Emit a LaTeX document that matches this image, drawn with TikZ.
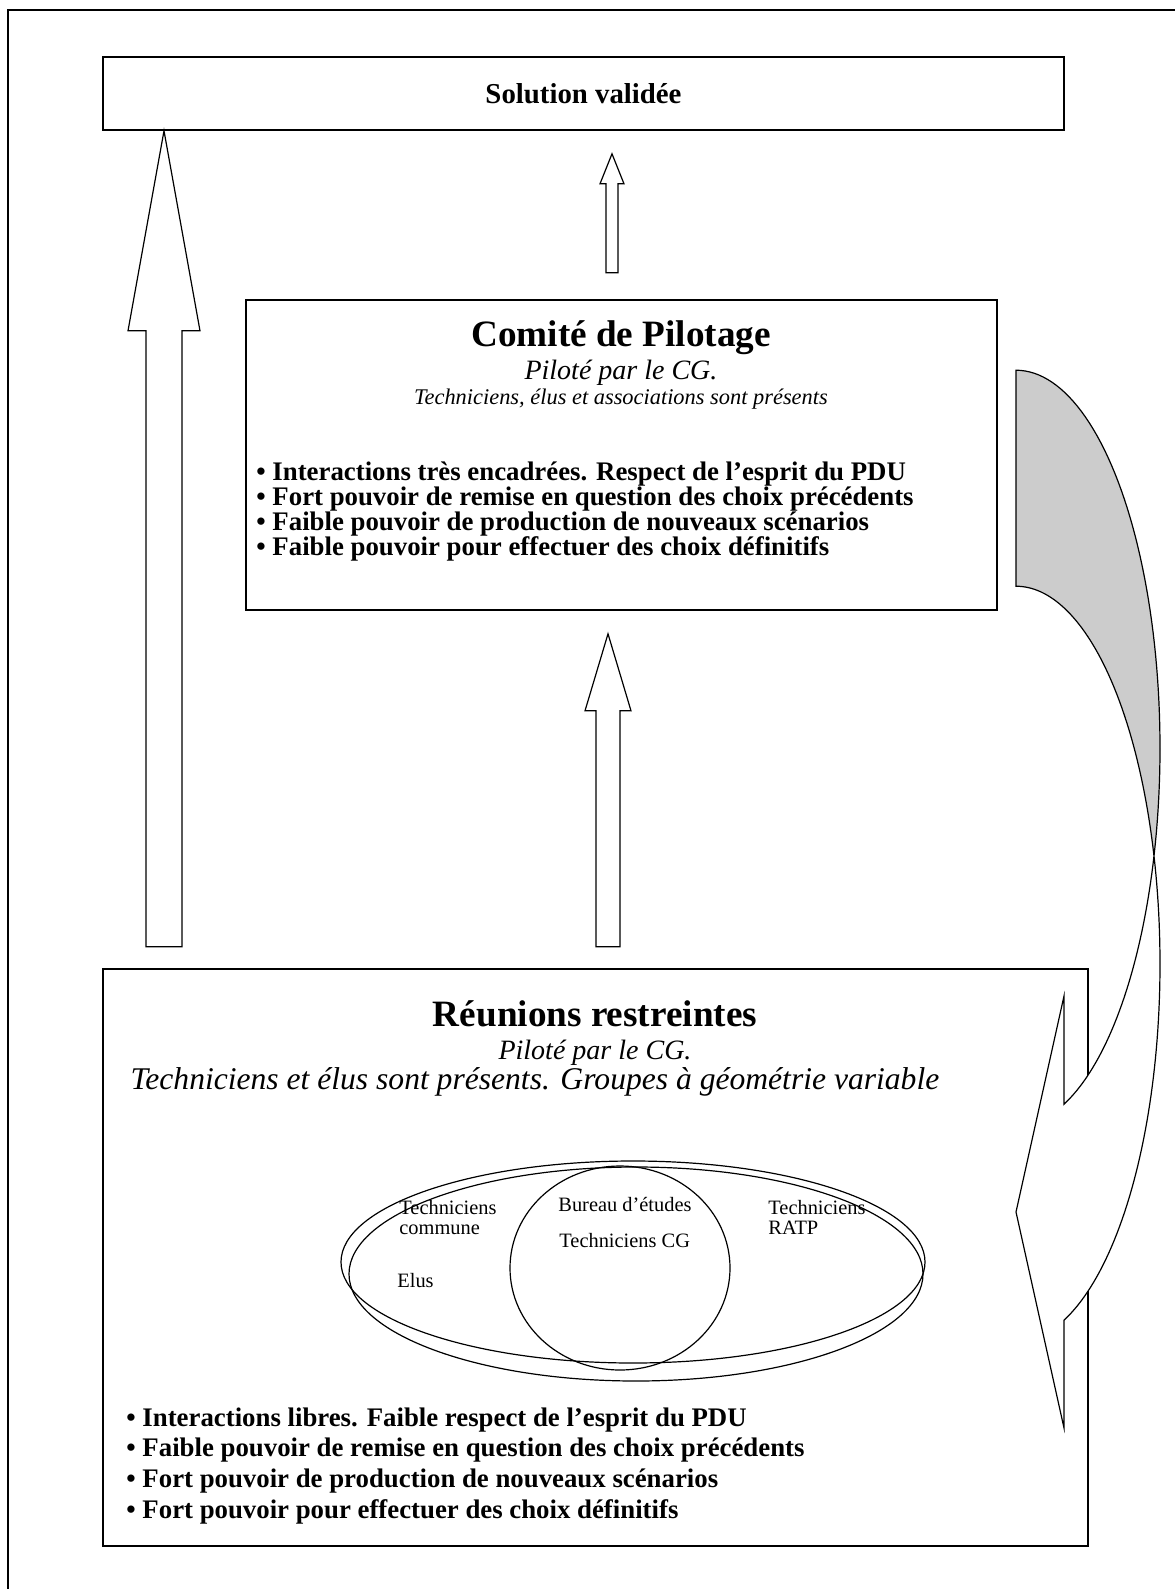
\documentclass[tikz,border=0pt]{standalone}
\usepackage{fontspec}
\setmainfont{Liberation Serif}
\usetikzlibrary{calc}

\begin{document}
\begin{tikzpicture}[
    x=0.5pt, y=-0.5pt,
    font=\normalfont,
    panel/.style={
		rectangle,
		draw=black,
		line width=0.8pt,
		fill=white,
		inner sep=0pt
	},
	hollow/.style={
		draw=black,
		line width=0.6pt,
		fill=white
	},
	twisted/.style={
		draw=black,
		line width=0.6pt
	},
	headline/.style={
		inner sep=0pt,
		anchor=base
	},
	points/.style={
		inner sep=0pt,
		anchor=north west,
		align=left
	},
	venntext/.style={
		inner sep=0pt,
		align=left,
		font=\fontsize{10.2}{10}\selectfont
	}
  ]
  \useasboundingbox (0,0) rectangle (1175,1589);
  % outer frame, only top and left show
  \draw [line width=0.8pt] (8,1589) -- (8,10) -- (1175,10);

  % We start by placing the blocks
  \node [panel, minimum width=480.5pt, minimum height=36.5pt] (sol) at (583.5,93.5)
    {\fontsize{14.4}{16}\selectfont\bfseries Solution validée};

  \node [panel, minimum width=375.5pt, minimum height=155pt] (comite) at (621.5,455) {};
  \node [headline, font=\fontsize{18.6}{20}\selectfont\bfseries] (cpTitle) at (621,346)
    {Comité de Pilotage};
  \node [headline, font=\fontsize{14}{16}\selectfont\itshape] (cpLead) at (621,379)
    {Piloté par le CG.};
  \node [headline, font=\fontsize{11.2}{12}\selectfont\itshape] (cpWho) at (621,404)
    {Techniciens, élus et associations sont présents};
  \node [points, font=\fontsize{13.4}{12.65}\selectfont\bfseries] (cpPoints) at (256,461)
    {\textbullet\ Interactions très encadrées. Respect de l’esprit du PDU\\
     \textbullet\ Fort pouvoir de remise en question des choix précédents\\
     \textbullet\ Faible pouvoir de production de nouveaux scénarios\\
     \textbullet\ Faible pouvoir pour effectuer des choix définitifs};

  \node [panel, minimum width=492.5pt, minimum height=288.5pt] (reunions) at (595.5,1257.5) {};
  \node [headline, font=\fontsize{18.6}{20}\selectfont\bfseries] (rrTitle) at (595,1026)
    {Réunions restreintes};
  \node [headline, font=\fontsize{14}{16}\selectfont\itshape] (rrLead) at (595,1059)
    {Piloté par le CG.};
  \node [headline, font=\fontsize{15.8}{16}\selectfont\itshape] (rrWho) at (535,1089)
    {Techniciens et élus sont présents. Groupes à géométrie variable};
  \node [points, font=\fontsize{13.4}{15.4}\selectfont\bfseries] (rrPoints) at (126,1407)
    {\textbullet\ Interactions libres. Faible respect de l’esprit du PDU\\
     \textbullet\ Faible pouvoir de remise en question des choix précédents\\
     \textbullet\ Fort pouvoir de production de nouveaux scénarios\\
     \textbullet\ Fort pouvoir pour effectuer des choix définitifs};

  % groups
  \draw [line width=0.6pt] (633,1262) ellipse [x radius=292, y radius=101];
  \draw [line width=0.6pt] (636,1274) ellipse [x radius=287, y radius=107];
  \draw [line width=0.6pt] (620,1268) ellipse [x radius=110, y radius=102];
  \node [venntext, anchor=north west] (tcom) at (399,1200) {Techniciens\\commune};
  \node [venntext, anchor=base west] (elus) at (397,1287) {Elus};
  \node [venntext, anchor=base west] (bureau) at (558,1211) {Bureau d’études};
  \node [venntext, anchor=base west] (tcg) at (559,1247) {Techniciens CG};
  \node [venntext, anchor=north west] (tratp) at (768,1200) {Techniciens\\RATP};

  % block arrows
  \draw [hollow] (164,0 |- sol.south) -- ++(36,200) -- ++(-18,0) -- ++(0,616)
    -- ++(-36,0) -- ++(0,-616) -- ++(-18,0) -- cycle;
  \draw [hollow] ($(612,0 |- sol.south)+(0,23)$) -- ++(12,30) -- ++(-6,0) -- ++(0,89)
    -- ++(-12,0) -- ++(0,-89) -- ++(-6,0) -- cycle;
  \draw [hollow] ($(608,0 |- comite.south)+(0,23)$) -- ++(23,77) -- ++(-11,0) -- ++(0,236)
    -- ++(-24,0) -- ++(0,-236) -- ++(-11,0) -- cycle;

  % curved arrow back down
  \filldraw [twisted, fill=black!20]
    plot [domain=-90:16.61, samples=60] ({1016+144*cos(\x)},{748+377.8*sin(\x)})
    -- plot [domain=-16.61:-90, samples=60] ({1016+144*cos(\x)},{964+377.8*sin(\x)})
    -- cycle;
  \filldraw [twisted, fill=white]
    plot [domain=16.61:70.53, samples=40] ({1016+144*cos(\x)},{748+377.8*sin(\x)})
    -- (1064,996) -- (1016,1212) -- (1064,1428)
    -- plot [domain=70.53:-16.61, samples=60] ({1016+144*cos(\x)},{964+377.8*sin(\x)})
    -- cycle;

\end{tikzpicture}
\end{document}
